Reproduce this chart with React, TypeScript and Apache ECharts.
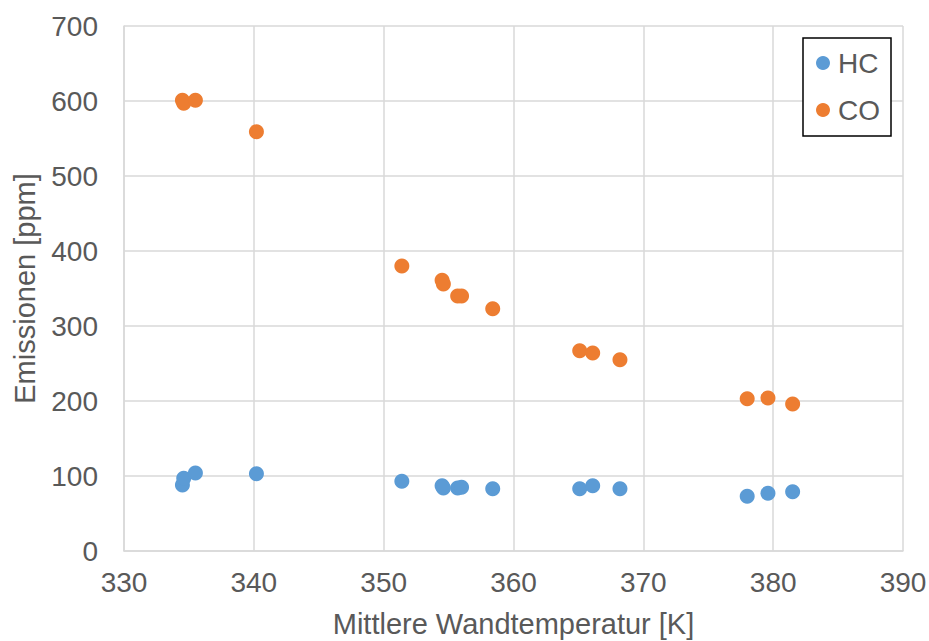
import React, { useEffect, useRef } from "react";
import * as echarts from "echarts";

const hcX = [334.5, 334.6, 335.5, 340.2, 351.4, 354.5, 354.6, 355.7, 356.0, 358.4, 365.1, 366.1, 368.2, 378.0, 379.6, 381.5];
const hcY = [88, 97, 104, 103, 93, 87, 84, 84, 85, 83, 83, 87, 83, 73, 77, 79];
const coX = [334.5, 334.6, 335.5, 340.2, 351.4, 354.5, 354.6, 355.7, 356.0, 358.4, 365.1, 366.1, 368.2, 378.0, 379.6, 381.5];
const coY = [601, 597, 601, 559, 380, 361, 356, 340, 340, 323, 267, 264, 255, 203, 204, 196];

const xTitle = "Mittlere Wandtemperatur [K]";
const yTitle = "Emissionen [ppm]";

export default function App() {
  const ref = useRef<HTMLDivElement>(null);
  useEffect(() => {
    if (!ref.current) return;
    const chart = echarts.init(ref.current, undefined, { renderer: "svg" });
    const font = "Arial, 'Liberation Sans', sans-serif";
    const labelColor = "#595959";
    const fs = 28;
    chart.setOption({
      animation: false,
      textStyle: { fontFamily: font },
      grid: { left: 124, right: 26, top: 26, bottom: 90, outerBoundsMode: "none", containLabel: false },
      legend: {
        orient: "vertical",
        left: 803,
        top: 38,
        padding: [11, 11, 12, 13],
        itemGap: 19,
        itemWidth: 14,
        itemHeight: 14,
        icon: "circle",
        borderColor: "#000",
        borderWidth: 1.5,
        backgroundColor: "#fff",
        textStyle: { fontSize: fs, color: labelColor, fontFamily: font, lineHeight: 28, padding: [0, 0, 0, 3] },
        data: ["HC", "CO"],
      },
      xAxis: {
        type: "value",
        min: 330,
        max: 390,
        interval: 10,
        name: xTitle,
        nameLocation: "middle",
        nameGap: 58,
        nameTextStyle: { fontSize: 29, color: labelColor, fontFamily: font },
        axisLine: { show: true, lineStyle: { color: "#d9d9d9", width: 1.5 } },
        axisTick: { show: false },
        axisLabel: { fontSize: fs, color: labelColor, margin: 17, fontFamily: font },
        splitLine: { show: true, lineStyle: { color: "#d9d9d9", width: 1.5 } },
      },
      yAxis: {
        type: "value",
        min: 0,
        max: 700,
        interval: 100,
        name: yTitle,
        nameLocation: "middle",
        nameGap: 85,
        nameTextStyle: { fontSize: 29, color: labelColor, fontFamily: font },
        axisLine: { show: true, lineStyle: { color: "#d9d9d9", width: 1.5 } },
        axisTick: { show: false },
        axisLabel: { fontSize: fs, color: labelColor, margin: 26, fontFamily: font },
        splitLine: { show: true, lineStyle: { color: "#d9d9d9", width: 1.5 } },
      },
      series: [
        {
          name: "HC",
          type: "scatter",
          symbol: "circle",
          symbolSize: 15,
          itemStyle: { color: "#5B9BD5", opacity: 1 },
          data: hcX.map((x, i) => [x, hcY[i]]),
        },
        {
          name: "CO",
          type: "scatter",
          symbol: "circle",
          symbolSize: 15,
          itemStyle: { color: "#ED7D31", opacity: 1 },
          data: coX.map((x, i) => [x, coY[i]]),
        },
      ],
    });
    return () => chart.dispose();
  }, []);
  return <div ref={ref} style={{ width: 929, height: 641, position: "absolute", left: 0, top: 0 }} />;
}
